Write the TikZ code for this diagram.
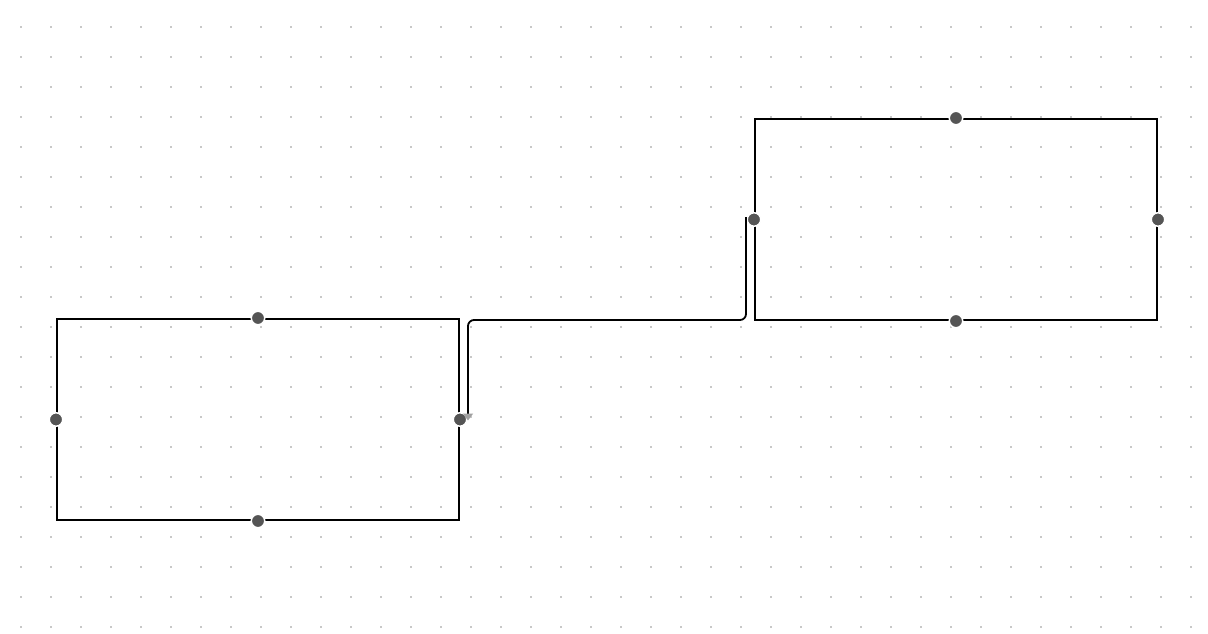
\documentclass[tikz,border=0pt]{standalone}
\usetikzlibrary{arrows.meta}
\definecolor{portc}{HTML}{555555}
\definecolor{gridc}{HTML}{C8C8C8}
\definecolor{tipc}{HTML}{A0A0A0}
\begin{document}
\begin{tikzpicture}[x=1pt,y=-1pt,
  box/.style={draw=black,line width=1.8pt,minimum width=402pt,minimum height=201pt,inner sep=0pt,outer sep=0pt},
  port/.style={circle,fill=portc,draw=white,line width=1.5pt,minimum size=13.5pt,inner sep=0pt},
  conn/.style={draw=black,line width=1.8pt,rounded corners=6pt},
  griddot/.style={fill=gridc}]
\useasboundingbox (0,0) rectangle (1208,634);
\fill[white] (0,0) rectangle (1208,634);
\foreach \i in {0,...,39}{
  \foreach \j in {0,...,20}{
    \fill[griddot] ({20+30*\i},{26+30*\j}) rectangle ++(2,2);
  }
}
\node[box] (lb) at (258,419.5) {};
\node[box] (rb) at (956,219.5) {};
\node[port] (lbn) at ([yshift=1pt]lb.north) {};
\node[port] (lbw) at ([xshift=-1pt]lb.west) {};
\node[port] (lbe) at ([xshift=1pt]lb.east) {};
\node[port] (lbs) at ([yshift=-1pt]lb.south) {};
\node[port] (rbn) at ([yshift=1pt]rb.north) {};
\node[port] (rbw) at ([xshift=-1pt]rb.west) {};
\node[port] (rbe) at ([xshift=1pt]rb.east) {};
\node[port] (rbs) at ([yshift=-1pt]rb.south) {};
\coordinate (cs) at ([xshift=-8pt,yshift=2.5pt]rbw.center);
\coordinate (ce) at ([xshift=8pt,yshift=-1pt]lbe.center);
\draw[conn,-{Triangle[length=7pt,width=10pt,color=tipc]}] (cs) -- (cs |- 0,320) -- (ce |- 0,320) -- (ce);
\end{tikzpicture}
\end{document}
